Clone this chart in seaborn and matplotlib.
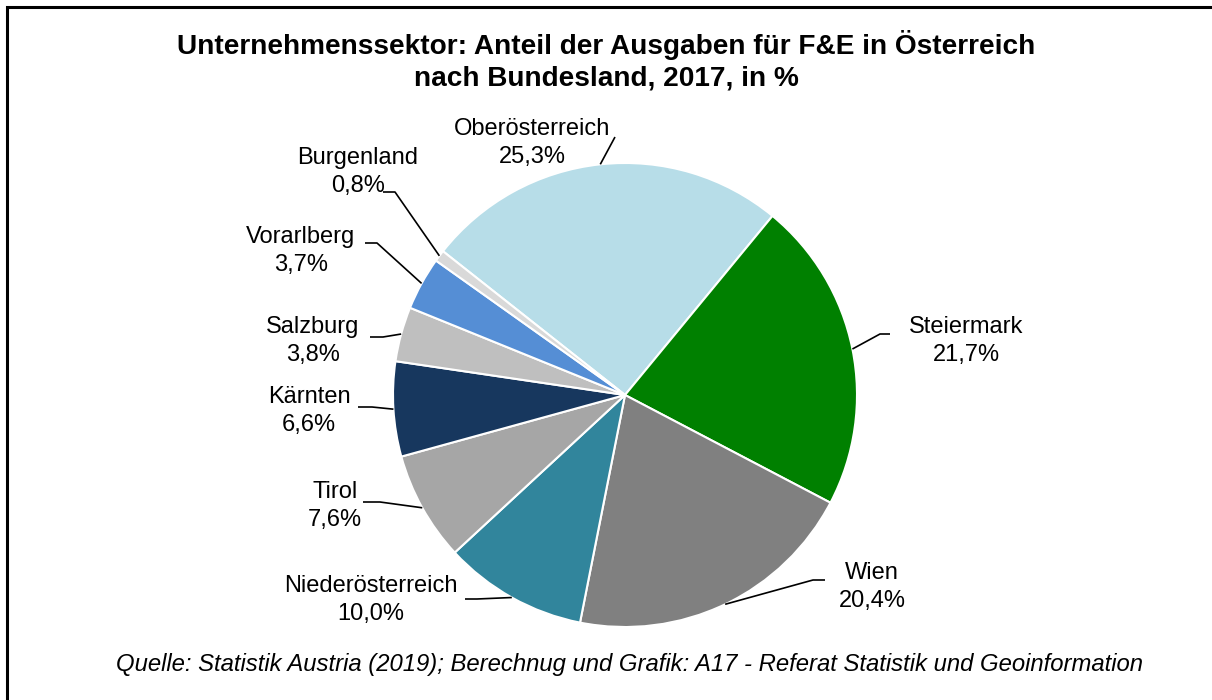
import numpy as np
import seaborn as sns
import matplotlib.pyplot as plt
from matplotlib.patches import Rectangle

### Data (clockwise, starting with Oberösterreich)
regions = ["Oberösterreich", "Steiermark", "Wien", "Niederösterreich", "Tirol",
           "Kärnten", "Salzburg", "Vorarlberg", "Burgenland"]
shares = [25.3, 21.7, 20.4, 10.0, 7.6, 6.6, 3.8, 3.7, 0.8]
share_labels = ["25,3%", "21,7%", "20,4%", "10,0%", "7,6%", "6,6%", "3,8%", "3,7%", "0,8%"]
colors = ["#b7dde8", "#008000", "#808080", "#31859c", "#a6a6a6",
          "#17375e", "#bfbfbf", "#558ed5", "#d9d9d9"]

title = ("Unternehmenssektor: Anteil der Ausgaben für F&E in Österreich\n"
         "nach Bundesland, 2017, in %")
source = ("Quelle: Statistik Austria (2019); Berechnug und Grafik: "
          "A17 - Referat Statistik und Geoinformation")

### Layout in pixels (label centre, leader line points towards the pie)
W, H = 1212, 700
cx, cy, R = 625, 395, 232
label_pos = [(532, 143), (966, 341), (872, 587), (371, 600), (335, 506),
             (309, 411), (313, 341), (301, 251), (358, 172)]
leader = [[(615, 137)],
          [(890, 334), (880, 334)],
          [(825, 580), (813, 580)],
          [(465, 599), (477, 599)],
          [(363, 502), (380, 502)],
          [(358, 407), (372, 407)],
          [(370, 337), (383, 337)],
          [(365, 243), (377, 243)],
          [(383, 192), (395, 192)]]


def to_data(p):
    return ((p[0] - cx) / R, (cy - p[1]) / R)


sns.set_theme(style="white")
plt.rcParams['font.family'] = ['Liberation Sans', 'DejaVu Sans']

fig = plt.figure(figsize=(W / 100, H / 100), dpi=100)
ax = fig.add_axes([0, 0, 1, 1])

wedges, _ = ax.pie(shares, colors=sns.color_palette(colors), startangle=141.7,
                   counterclock=False, radius=1,
                   wedgeprops=dict(edgecolor="white", linewidth=1.5))
ax.set_xlim(-cx / R, (W - cx) / R)
ax.set_ylim(-(H - cy) / R, cy / R)
ax.set_aspect("equal")
ax.axis("off")

# labels and leader lines
for w, name, lab, pos, pts in zip(wedges, regions, share_labels, label_pos, leader):
    mid = np.deg2rad((w.theta1 + w.theta2) / 2)
    anchor = (np.cos(mid), np.sin(mid))
    line = [to_data(p) for p in pts] + [anchor]
    xs, ys = zip(*line)
    ax.plot(xs, ys, color="black", lw=1.2, solid_capstyle="butt")
    tx, ty = to_data(pos)
    ax.text(tx, ty, name + "\n" + lab, ha="center", va="center",
            fontsize=17, linespacing=1.32, color="black")

fig.text(0.5, 1 - 61 / H, title, ha="center", va="center", fontsize=20.2,
         fontweight="bold", linespacing=1.3, color="black")
fig.text(630 / W, 1 - 665 / H, source, ha="center", va="center",
         fontsize=17.2, style="italic", color="black")

# frame (only top and left edges visible)
fig.patches.append(Rectangle((6.5 / W, -0.1), 2, 1.1 - 7.5 / H, transform=fig.transFigure,
                             fill=False, edgecolor="black", lw=2.2))

fig.savefig("out.png", dpi=100)
